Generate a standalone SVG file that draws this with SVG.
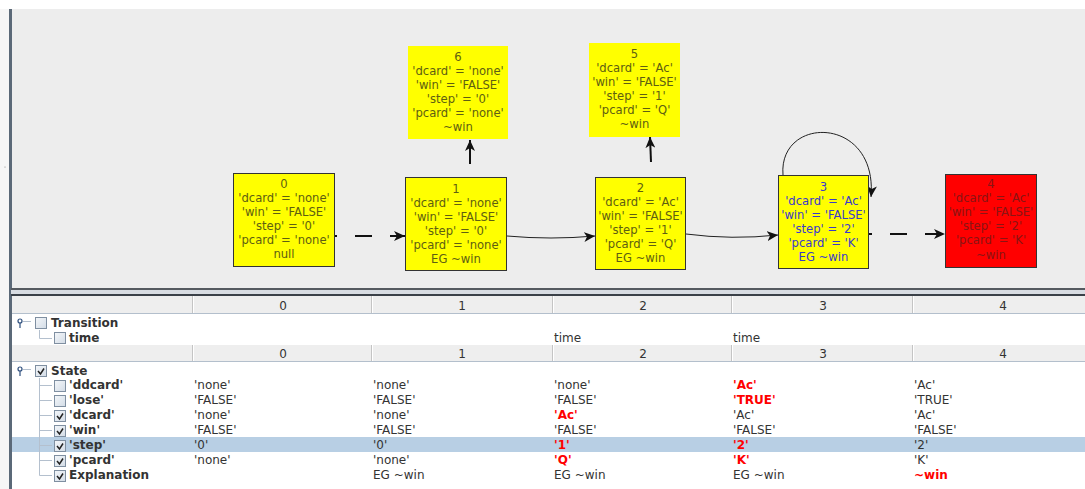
<svg xmlns="http://www.w3.org/2000/svg" width="1085" height="489" viewBox="0 0 1085 489">
  <style>
    text { font-family: "DejaVu Sans", "Liberation Sans", sans-serif; }
    .node-fill { fill: #ffff00; }
    .node-border { stroke: #333333; stroke-width: 1; }
    .ntxt { font-size: 11.6px; text-anchor: middle; fill: #5e5e12; }
    .ntxt-blue { font-size: 11.6px; text-anchor: middle; fill: #3a3acc; }
    .ntxt-red { font-size: 11.6px; text-anchor: middle; fill: #8a1414; }
    .edge-thin { fill: none; stroke: #222222; stroke-width: 1; }
    .edge-thick { fill: none; stroke: #111111; stroke-width: 2; }
    .edge-dash { fill: none; stroke: #111111; stroke-width: 2; stroke-dasharray: 17 18; }
    .hdr { fill: #eeeeee; }
    .hdrnum { font-size: 12px; text-anchor: middle; fill: #333333; }
    .val { font-size: 12px; fill: #333333; }
    .chg { font-size: 12px; fill: #ff0000; font-weight: bold; }
    .lbl { font-size: 12px; fill: #333333; font-weight: bold; }
    .tree { stroke: #b4c0ce; stroke-width: 1; fill: none; }
    .cb { fill: url(#cbGrad); stroke: #7f8fa1; stroke-width: 1; }
    .tick { fill: none; stroke: #222222; stroke-width: 1.5; }
  </style>
  <defs>
    <marker id="arrow" markerUnits="userSpaceOnUse" markerWidth="12" markerHeight="10" refX="11" refY="5" orient="auto">
      <path d="M0,0 L11,5 L0,10 L3,5 z" fill="#111111"/>
    </marker>
    <linearGradient id="cbGrad" x1="0" y1="0" x2="1" y2="1">
      <stop offset="0" stop-color="#f4f7fa"/>
      <stop offset="1" stop-color="#d3dce6"/>
    </linearGradient>
  </defs>

  <!-- window background -->
  <rect x="0" y="0" width="1085" height="489" fill="#ffffff"/>
  <rect x="0" y="9" width="10" height="480" fill="#f6f6f6"/>

  <!-- graph panel -->
  <rect x="11" y="9" width="1074" height="280" fill="#ededed"/>
  <rect x="9" y="9" width="3" height="480" fill="#5b6978"/>
  <rect x="11" y="288" width="1074" height="2" fill="#555a60"/>
  <rect x="11" y="290" width="1074" height="5" fill="#d8dce2"/>
  <rect x="11" y="294" width="1074" height="2" fill="#3a4048"/>
  <circle cx="5" cy="167" r="0.6" fill="#888888"/>

  <!-- connectors -->
  <g id="connectors">
    <path class="edge-dash" stroke-dashoffset="15" d="M335,236 L405,236" marker-end="url(#arrow)"/>
    <path class="edge-thin" d="M507,236 Q551,240 595,236" marker-end="url(#arrow)"/>
    <path class="edge-thin" d="M686,234 Q732,240 778,235" marker-end="url(#arrow)"/>
    <path class="edge-dash" stroke-dashoffset="14" d="M869,234 L945,234" marker-end="url(#arrow)"/>
    <path class="edge-thick" d="M470,164 L470,140" marker-end="url(#arrow)"/>
    <path class="edge-thick" d="M651,162 L650,137" marker-end="url(#arrow)"/>
    <path class="edge-thin" d="M783,175 C778,115 878,115 871,197" marker-end="url(#arrow)"/>
  </g>

  <!-- state nodes -->
  <g id="node0">
    <rect class="node-fill node-border" x="233.5" y="173.5" width="101" height="93"/>
    <text class="ntxt" x="284" y="188">0</text>
    <text class="ntxt" x="284" y="202">'dcard' = 'none'</text>
    <text class="ntxt" x="284" y="216">'win' = 'FALSE'</text>
    <text class="ntxt" x="284" y="230">'step' = '0'</text>
    <text class="ntxt" x="284" y="244">'pcard' = 'none'</text>
    <text class="ntxt" x="284" y="258">null</text>
  </g>

  <g id="node1">
    <rect class="node-fill node-border" x="405.5" y="177.5" width="101" height="93"/>
    <text class="ntxt" x="456" y="193">1</text>
    <text class="ntxt" x="456" y="207">'dcard' = 'none'</text>
    <text class="ntxt" x="456" y="221">'win' = 'FALSE'</text>
    <text class="ntxt" x="456" y="235">'step' = '0'</text>
    <text class="ntxt" x="456" y="249">'pcard' = 'none'</text>
    <text class="ntxt" x="456" y="263">EG ~win</text>
  </g>

  <g id="node6">
    <rect class="node-fill" x="408" y="46" width="100" height="93"/>
    <text class="ntxt" x="458" y="61">6</text>
    <text class="ntxt" x="458" y="75">'dcard' = 'none'</text>
    <text class="ntxt" x="458" y="89">'win' = 'FALSE'</text>
    <text class="ntxt" x="458" y="103">'step' = '0'</text>
    <text class="ntxt" x="458" y="117">'pcard' = 'none'</text>
    <text class="ntxt" x="458" y="131">~win</text>
  </g>

  <g id="node5">
    <rect class="node-fill" x="589" y="43" width="91" height="94"/>
    <text class="ntxt" x="634.5" y="58">5</text>
    <text class="ntxt" x="634.5" y="72">'dcard' = 'Ac'</text>
    <text class="ntxt" x="634.5" y="86">'win' = 'FALSE'</text>
    <text class="ntxt" x="634.5" y="100">'step' = '1'</text>
    <text class="ntxt" x="634.5" y="114">'pcard' = 'Q'</text>
    <text class="ntxt" x="634.5" y="128">~win</text>
  </g>

  <g id="node2">
    <rect class="node-fill node-border" x="595.5" y="177.5" width="90" height="92"/>
    <text class="ntxt" x="640.5" y="192">2</text>
    <text class="ntxt" x="640.5" y="206">'dcard' = 'Ac'</text>
    <text class="ntxt" x="640.5" y="220">'win' = 'FALSE'</text>
    <text class="ntxt" x="640.5" y="234">'step' = '1'</text>
    <text class="ntxt" x="640.5" y="248">'pcard' = 'Q'</text>
    <text class="ntxt" x="640.5" y="262">EG ~win</text>
  </g>

  <g id="node3">
    <rect class="node-fill node-border" x="778.5" y="175.5" width="90" height="93"/>
    <text class="ntxt-blue" x="823.5" y="191">3</text>
    <text class="ntxt-blue" x="823.5" y="205">'dcard' = 'Ac'</text>
    <text class="ntxt-blue" x="823.5" y="219">'win' = 'FALSE'</text>
    <text class="ntxt-blue" x="823.5" y="233">'step' = '2'</text>
    <text class="ntxt-blue" x="823.5" y="247">'pcard' = 'K'</text>
    <text class="ntxt-blue" x="823.5" y="261">EG ~win</text>
  </g>

  <g id="node4">
    <rect x="945.5" y="174.5" width="91" height="93" fill="#ff0000" stroke="#333333" stroke-width="1"/>
    <text class="ntxt-red" x="991" y="188">4</text>
    <text class="ntxt-red" x="991" y="202">'dcard' = 'Ac'</text>
    <text class="ntxt-red" x="991" y="216">'win' = 'FALSE'</text>
    <text class="ntxt-red" x="991" y="230">'step' = '2'</text>
    <text class="ntxt-red" x="991" y="244">'pcard' = 'K'</text>
    <text class="ntxt-red" x="991" y="259">~win</text>
  </g>

  <!-- trace table -->
  <g id="trace-table">
    <!-- column headers (transitions) -->
    <rect class="hdr" x="12" y="296" width="1073" height="18"/>
    <line x1="12" y1="313.5" x2="1085" y2="313.5" stroke="#b3bfcc"/>
    <!-- column headers (states) -->
    <rect class="hdr" x="12" y="345" width="1073" height="17"/>
    <line x1="12" y1="361.5" x2="1085" y2="361.5" stroke="#b3bfcc"/>
    <g stroke="#c4c4c4">
      <line x1="192.5" y1="296" x2="192.5" y2="313"/>
      <line x1="371.5" y1="296" x2="371.5" y2="313"/>
      <line x1="552.5" y1="296" x2="552.5" y2="313"/>
      <line x1="731.5" y1="296" x2="731.5" y2="313"/>
      <line x1="912.5" y1="296" x2="912.5" y2="313"/>
      <line x1="192.5" y1="345" x2="192.5" y2="361"/>
      <line x1="371.5" y1="345" x2="371.5" y2="361"/>
      <line x1="552.5" y1="345" x2="552.5" y2="361"/>
      <line x1="731.5" y1="345" x2="731.5" y2="361"/>
      <line x1="912.5" y1="345" x2="912.5" y2="361"/>
    </g>
    <g stroke="#ffffff">
      <line x1="193.5" y1="296" x2="193.5" y2="313"/>
      <line x1="372.5" y1="296" x2="372.5" y2="313"/>
      <line x1="553.5" y1="296" x2="553.5" y2="313"/>
      <line x1="732.5" y1="296" x2="732.5" y2="313"/>
      <line x1="913.5" y1="296" x2="913.5" y2="313"/>
      <line x1="193.5" y1="345" x2="193.5" y2="361"/>
      <line x1="372.5" y1="345" x2="372.5" y2="361"/>
      <line x1="553.5" y1="345" x2="553.5" y2="361"/>
      <line x1="732.5" y1="345" x2="732.5" y2="361"/>
      <line x1="913.5" y1="345" x2="913.5" y2="361"/>
    </g>
    <text class="hdrnum" x="283" y="310">0</text>
    <text class="hdrnum" x="462" y="310">1</text>
    <text class="hdrnum" x="643" y="310">2</text>
    <text class="hdrnum" x="823" y="310">3</text>
    <text class="hdrnum" x="1003" y="310">4</text>
    <text class="hdrnum" x="283" y="358">0</text>
    <text class="hdrnum" x="462" y="358">1</text>
    <text class="hdrnum" x="643" y="358">2</text>
    <text class="hdrnum" x="823" y="358">3</text>
    <text class="hdrnum" x="1003" y="358">4</text>

    <!-- selected row -->
    <rect x="12" y="437" width="1073" height="15" fill="#b8cfe4"/>

    <!-- tree handles and connector lines -->
    <g fill="none" stroke="#2e4f7e" stroke-width="1.2">
      <circle cx="20" cy="321" r="2"/>
      <line x1="20" y1="323" x2="20" y2="328"/>
      <circle cx="20" cy="369" r="2"/>
      <line x1="20" y1="371" x2="20" y2="376"/>
    </g>
    <g class="tree">
      <line x1="23" y1="321.5" x2="31" y2="321.5"/>
      <line x1="23" y1="369.5" x2="31" y2="369.5"/>
      <path d="M39.5,330 V338.5 H52"/>
      <path d="M39.5,378 V475.5"/>
      <line x1="39.5" y1="385.5" x2="52" y2="385.5"/>
      <line x1="39.5" y1="400.5" x2="52" y2="400.5"/>
      <line x1="39.5" y1="415.5" x2="52" y2="415.5"/>
      <line x1="39.5" y1="430.5" x2="52" y2="430.5"/>
      <line x1="39.5" y1="445.5" x2="52" y2="445.5"/>
      <line x1="39.5" y1="460.5" x2="52" y2="460.5"/>
      <line x1="39.5" y1="475.5" x2="52" y2="475.5"/>
    </g>

    <!-- checkboxes -->
    <rect class="cb" x="35.5" y="317.5" width="11" height="11"/>
    <rect class="cb" x="54.5" y="332.5" width="11" height="11"/>
    <rect class="cb" x="35.5" y="365.5" width="11" height="11"/>
    <rect class="cb" x="54.5" y="380.5" width="11" height="11"/>
    <rect class="cb" x="54.5" y="395.5" width="11" height="11"/>
    <rect class="cb" x="54.5" y="410.5" width="11" height="11"/>
    <rect class="cb" x="54.5" y="425.5" width="11" height="11"/>
    <rect class="cb" x="54.5" y="440.5" width="11" height="11"/>
    <rect class="cb" x="54.5" y="455.5" width="11" height="11"/>
    <rect class="cb" x="54.5" y="470.5" width="11" height="11"/>
    <path class="tick" d="M38,371 L40.5,374 L44,368.5"/>
    <path class="tick" d="M57,416 L59.5,419 L63,413.5"/>
    <path class="tick" d="M57,431 L59.5,434 L63,428.5"/>
    <path class="tick" d="M57,446 L59.5,449 L63,443.5"/>
    <path class="tick" d="M57,461 L59.5,464 L63,458.5"/>
    <path class="tick" d="M57,476 L59.5,479 L63,473.5"/>

    <!-- row labels -->
    <text class="lbl" x="51" y="327">Transition</text>
    <text class="lbl" x="69" y="342">time</text>
    <text class="lbl" x="51" y="375">State</text>
    <text class="lbl" x="69" y="389">'ddcard'</text>
    <text class="lbl" x="69" y="404">'lose'</text>
    <text class="lbl" x="69" y="419">'dcard'</text>
    <text class="lbl" x="69" y="434">'win'</text>
    <text class="lbl" x="69" y="449">'step'</text>
    <text class="lbl" x="69" y="464">'pcard'</text>
    <text class="lbl" x="69" y="479">Explanation</text>

    <!-- transition cells -->
    <text class="val" x="554" y="342">time</text>
    <text class="val" x="733" y="342">time</text>

    <!-- 'ddcard' -->
    <text class="val" x="194" y="389">'none'</text>
    <text class="val" x="373" y="389">'none'</text>
    <text class="val" x="554" y="389">'none'</text>
    <text class="chg" x="733" y="389">'Ac'</text>
    <text class="val" x="914" y="389">'Ac'</text>
    <!-- 'lose' -->
    <text class="val" x="194" y="404">'FALSE'</text>
    <text class="val" x="373" y="404">'FALSE'</text>
    <text class="val" x="554" y="404">'FALSE'</text>
    <text class="chg" x="733" y="404">'TRUE'</text>
    <text class="val" x="914" y="404">'TRUE'</text>
    <!-- 'dcard' -->
    <text class="val" x="194" y="419">'none'</text>
    <text class="val" x="373" y="419">'none'</text>
    <text class="chg" x="554" y="419">'Ac'</text>
    <text class="val" x="733" y="419">'Ac'</text>
    <text class="val" x="914" y="419">'Ac'</text>
    <!-- 'win' -->
    <text class="val" x="194" y="434">'FALSE'</text>
    <text class="val" x="373" y="434">'FALSE'</text>
    <text class="val" x="554" y="434">'FALSE'</text>
    <text class="val" x="733" y="434">'FALSE'</text>
    <text class="val" x="914" y="434">'FALSE'</text>
    <!-- 'step' -->
    <text class="val" x="194" y="449">'0'</text>
    <text class="val" x="373" y="449">'0'</text>
    <text class="chg" x="554" y="449">'1'</text>
    <text class="chg" x="733" y="449">'2'</text>
    <text class="val" x="914" y="449">'2'</text>
    <!-- 'pcard' -->
    <text class="val" x="194" y="464">'none'</text>
    <text class="val" x="373" y="464">'none'</text>
    <text class="chg" x="554" y="464">'Q'</text>
    <text class="chg" x="733" y="464">'K'</text>
    <text class="val" x="914" y="464">'K'</text>
    <!-- Explanation -->
    <text class="val" x="373" y="479">EG ~win</text>
    <text class="val" x="554" y="479">EG ~win</text>
    <text class="val" x="733" y="479">EG ~win</text>
    <text class="chg" x="914" y="479">~win</text>
  </g>
</svg>
